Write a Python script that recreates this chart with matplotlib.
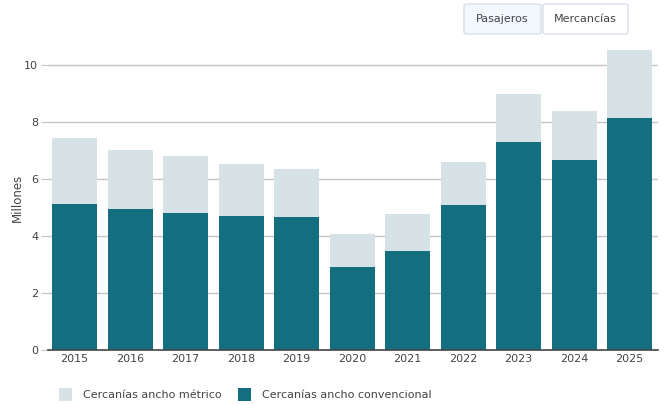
import numpy as np
import matplotlib
matplotlib.use("Agg")
import matplotlib.pyplot as plt
from matplotlib.patches import FancyBboxPatch, Rectangle

years = ["2015", "2016", "2017", "2018", "2019", "2020", "2021", "2022", "2023", "2024", "2025"]
convencional = [5.12, 4.95, 4.81, 4.70, 4.67, 2.91, 3.47, 5.09, 7.30, 6.67, 8.14]
totales = [7.44, 7.02, 6.81, 6.53, 6.35, 4.07, 4.77, 6.60, 8.98, 8.39, 10.53]
metrico = [t - c for t, c in zip(totales, convencional)]

color_conv = "#136e80"
color_metr = "#d7e2e6"
texto = "#444444"

plt.rcParams["font.family"] = ["DejaVu Sans"]

fig = plt.figure(figsize=(6.65, 4.05), dpi=100)
ax = fig.add_axes([48 / 665, 55 / 405, 610 / 665, 305 / 405])

x = np.arange(len(years))
ax.bar(x, convencional, width=0.81, color=color_conv, zorder=3)
ax.bar(x, metrico, width=0.81, bottom=convencional, color=color_metr, zorder=3)

ax.set_xlim(-0.48, 10.51)
ax.set_ylim(0, 10.7)
ax.set_yticks([0, 2, 4, 6, 8, 10])
ax.set_xticks(x)
ax.set_xticklabels(years)
ax.grid(axis="y", color="#c4c4c4", linewidth=1, zorder=0)
ax.set_axisbelow(True)

for s in ["top", "right", "left"]:
    ax.spines[s].set_visible(False)
ax.spines["bottom"].set_color("#444444")
ax.spines["bottom"].set_linewidth(1.2)
ax.spines["bottom"].set_zorder(4)

ax.tick_params(axis="y", length=5, color="#c4c4c4", labelsize=8, labelcolor=texto, pad=2)
ax.tick_params(axis="x", length=0, labelsize=8, labelcolor=texto, pad=3)
ax.set_ylabel("Millones", fontsize=8.5, color=texto)
ax.yaxis.set_label_coords(-24 / 610, 0.5)

# botones
fig.patches.append(FancyBboxPatch((464 / 665, 1 - 34 / 405), 77 / 665, 30 / 405,
                                  boxstyle="round,pad=0,rounding_size=0.004",
                                  transform=fig.transFigure, facecolor="#f3f8fe",
                                  edgecolor="#cfd8e6", linewidth=0.8))
fig.patches.append(FancyBboxPatch((543 / 665, 1 - 34 / 405), 85 / 665, 30 / 405,
                                  boxstyle="round,pad=0,rounding_size=0.004",
                                  transform=fig.transFigure, facecolor="white",
                                  edgecolor="#cfd8e6", linewidth=0.8))
fig.text(502 / 665, 1 - 19 / 405, "Pasajeros", ha="center", va="center", fontsize=8, color=texto)
fig.text(585 / 665, 1 - 19 / 405, "Mercancías", ha="center", va="center", fontsize=8, color=texto)

# leyenda
fig.patches.append(Rectangle((59 / 665, 1 - 401 / 405), 13 / 665, 13 / 405,
                             transform=fig.transFigure, facecolor=color_metr, edgecolor="none"))
fig.text(83 / 665, 1 - 394.5 / 405, "Cercanías ancho métrico", ha="left", va="center", fontsize=8, color=texto)
fig.patches.append(Rectangle((238 / 665, 1 - 401 / 405), 13 / 665, 13 / 405,
                             transform=fig.transFigure, facecolor=color_conv, edgecolor="none"))
fig.text(262 / 665, 1 - 394.5 / 405, "Cercanías ancho convencional", ha="left", va="center", fontsize=8, color=texto)

fig.savefig("out.png", dpi=100)
